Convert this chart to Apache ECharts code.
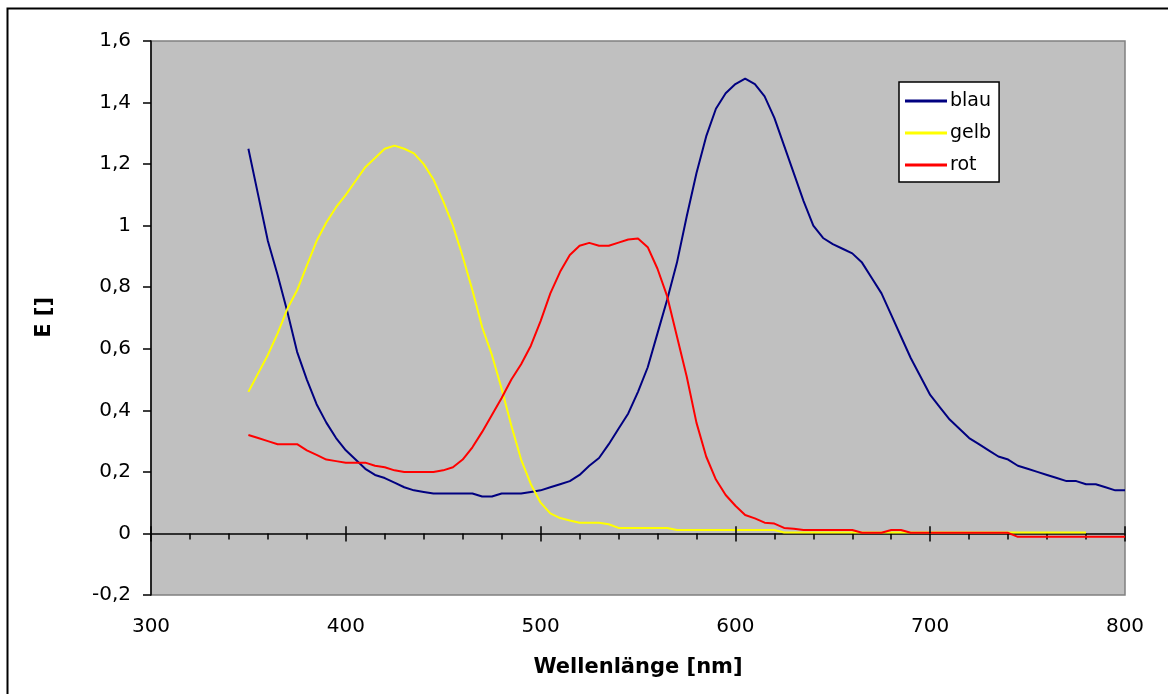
<!DOCTYPE html>
<html>
<head>
<meta charset="utf-8">
<script src="https://cdn.jsdelivr.net/npm/echarts@6/dist/echarts.min.js"></script>
<style>
  html, body { margin: 0; padding: 0; background: #fff; }
  #main { width: 1168px; height: 694px; }
</style>
</head>
<body>
<div id="main"></div>
<script>
// wavelength in nm, 5 nm steps
var wellenlaenge = [
  350, 355, 360, 365, 370, 375, 380, 385, 390, 395,
  400, 405, 410, 415, 420, 425, 430, 435, 440, 445,
  450, 455, 460, 465, 470, 475, 480, 485, 490, 495,
  500, 505, 510, 515, 520, 525, 530, 535, 540, 545,
  550, 555, 560, 565, 570, 575, 580, 585, 590, 595,
  600, 605, 610, 615, 620, 625, 630, 635, 640, 645,
  650, 655, 660, 665, 670, 675, 680, 685, 690, 695,
  700, 705, 710, 715, 720, 725, 730, 735, 740, 745,
  750, 755, 760, 765, 770, 775, 780, 785, 790, 795,
  800
];

var blau = [
  1.25, 1.10, 0.95, 0.84, 0.72, 0.59, 0.50, 0.42, 0.36, 0.31,
  0.27, 0.24, 0.21, 0.19, 0.18, 0.165, 0.15, 0.14, 0.135, 0.13,
  0.13, 0.13, 0.13, 0.13, 0.12, 0.12, 0.13, 0.13, 0.13, 0.135,
  0.14, 0.15, 0.16, 0.17, 0.19, 0.22, 0.245, 0.29, 0.34, 0.39,
  0.46, 0.54, 0.65, 0.76, 0.88, 1.03, 1.17, 1.29, 1.38, 1.43,
  1.46, 1.478, 1.46, 1.42, 1.35, 1.26, 1.17, 1.08, 1.00, 0.96,
  0.94, 0.925, 0.91, 0.88, 0.83, 0.78, 0.71, 0.64, 0.57, 0.51,
  0.45, 0.41, 0.37, 0.34, 0.31, 0.29, 0.27, 0.25, 0.24, 0.22,
  0.21, 0.20, 0.19, 0.18, 0.17, 0.17, 0.16, 0.16, 0.15, 0.14,
  0.14
];

// gelb stops at 780 nm
var gelb = [
  0.46, 0.52, 0.58, 0.65, 0.73, 0.79, 0.87, 0.95, 1.01, 1.06,
  1.10, 1.145, 1.19, 1.22, 1.25, 1.26, 1.25, 1.235, 1.20, 1.15,
  1.08, 1.00, 0.90, 0.79, 0.67, 0.58, 0.47, 0.35, 0.24, 0.16,
  0.10, 0.065, 0.05, 0.042, 0.035, 0.035, 0.035, 0.03, 0.018, 0.018,
  0.018, 0.018, 0.018, 0.018, 0.011, 0.011, 0.011, 0.011, 0.011, 0.011,
  0.011, 0.011, 0.011, 0.011, 0.011, 0.003, 0.003, 0.003, 0.003, 0.003,
  0.003, 0.003, 0.003, 0.003, 0.003, 0.003, 0.003, 0.003, 0.003, 0.003,
  0.003, 0.003, 0.003, 0.003, 0.003, 0.003, 0.003, 0.003, 0.003, 0.003,
  0.003, 0.003, 0.003, 0.003, 0.003, 0.003, 0.003
];

var rot = [
  0.32, 0.31, 0.30, 0.29, 0.29, 0.29, 0.27, 0.255, 0.24, 0.235,
  0.23, 0.23, 0.23, 0.22, 0.215, 0.205, 0.20, 0.20, 0.20, 0.20,
  0.205, 0.215, 0.24, 0.28, 0.33, 0.385, 0.44, 0.50, 0.55, 0.61,
  0.69, 0.78, 0.85, 0.905, 0.935, 0.944, 0.935, 0.935, 0.945, 0.955,
  0.958, 0.93, 0.86, 0.77, 0.64, 0.51, 0.36, 0.25, 0.175, 0.125,
  0.09, 0.06, 0.049, 0.035, 0.032, 0.018, 0.015, 0.011, 0.011, 0.011,
  0.011, 0.011, 0.011, 0.002, 0.002, 0.002, 0.011, 0.011, 0.002, 0.002,
  0.002, 0.002, 0.002, 0.002, 0.002, 0.002, 0.002, 0.002, 0.002, -0.011,
  -0.011, -0.011, -0.011, -0.011, -0.011, -0.011, -0.011, -0.011, -0.011, -0.011,
  -0.011
];

// major x ticks, they cross the zero line
var xTicks = [300, 400, 500, 600, 700, 800];

function pairs(values) {
  return values.map(function (v, i) { return [wellenlaenge[i], v]; });
}

var fontName = 'DejaVu Sans';

var chart = echarts.init(document.getElementById('main'));

var option = {
  animation: false,
  backgroundColor: '#ffffff',
  graphic: [{
    type: 'rect',
    shape: { x: 7.5, y: 8.5, width: 1300, height: 800 },
    style: { fill: 'none', stroke: '#000', lineWidth: 2 },
    z: 100
  }, {
    type: 'text',
    left: 34,
    top: 297,
    rotation: Math.PI / 2,
    style: { text: 'E []', font: 'bold 21px "DejaVu Sans"', fill: '#000' }
  }],
  grid: {
    left: 151, right: 43, top: 41, bottom: 99,
    show: true,
    backgroundColor: '#c0c0c0',
    borderColor: '#808080',
    borderWidth: 1.5
  },
  legend: {
    orient: 'vertical',
    left: 899,
    top: 82,
    backgroundColor: '#ffffff',
    borderColor: '#000',
    borderWidth: 1.5,
    padding: [9, 8, 7, 6],
    icon: 'rect',
    itemWidth: 42,
    itemHeight: 3,
    itemGap: 12,
    textStyle: { fontFamily: fontName, fontSize: 19, lineHeight: 20, color: '#000', padding: [0, 0, 0, -2] },
    data: ['blau', 'gelb', 'rot']
  },
  xAxis: [{
    type: 'value',
    min: 300, max: 800, interval: 100,
    position: 'bottom',
    name: 'Wellenlänge [nm]',
    nameLocation: 'middle',
    nameGap: 62,
    nameTextStyle: { fontFamily: fontName, fontWeight: 'bold', fontSize: 21, color: '#000' },
    axisLine: { show: false, onZero: false },
    axisTick: { show: false },
    splitLine: { show: false },
    axisLabel: { margin: 22, fontFamily: fontName, fontSize: 20, color: '#000' }
  }, {
    type: 'value',
    min: 300, max: 800, interval: 100,
    position: 'bottom',
    axisLine: { show: true, onZero: true, lineStyle: { color: '#000', width: 1.5 } },
    axisTick: { show: true, length: 8, lineStyle: { color: '#000', width: 1.5 } },
    minorTick: { show: true, splitNumber: 5, length: 6, lineStyle: { color: '#000', width: 1.5 } },
    axisLabel: { show: false },
    splitLine: { show: false }
  }],
  yAxis: {
    type: 'value',
    min: -0.2, max: 1.6, interval: 0.2,
    axisLine: { show: true, lineStyle: { color: '#000', width: 1.5 } },
    axisTick: { show: true, length: 8, lineStyle: { color: '#000', width: 1.5 } },
    splitLine: { show: false },
    axisLabel: {
      margin: 20,
      fontFamily: fontName, fontSize: 20, color: '#000',
      formatter: function (v) { return String(Math.round(v * 10) / 10).replace('.', ','); }
    }
  },
  series: [{
    name: 'blau', type: 'line', symbol: 'none',
    lineStyle: { color: '#000080', width: 2 }, itemStyle: { color: '#000080' },
    data: pairs(blau),
    markLine: {
      silent: true,
      symbol: 'none',
      label: { show: false },
      lineStyle: { color: '#000', width: 1.5, type: 'solid' },
      data: xTicks.map(function (t) { return [{ coord: [t, 0] }, { coord: [t, 0.023] }]; })
    }
  }, {
    name: 'gelb', type: 'line', symbol: 'none',
    lineStyle: { color: '#ffff00', width: 2 }, itemStyle: { color: '#ffff00' },
    data: pairs(gelb)
  }, {
    name: 'rot', type: 'line', symbol: 'none',
    lineStyle: { color: '#ff0000', width: 2 }, itemStyle: { color: '#ff0000' },
    data: pairs(rot)
  }]
};

chart.setOption(option);
</script>
</body>
</html>
